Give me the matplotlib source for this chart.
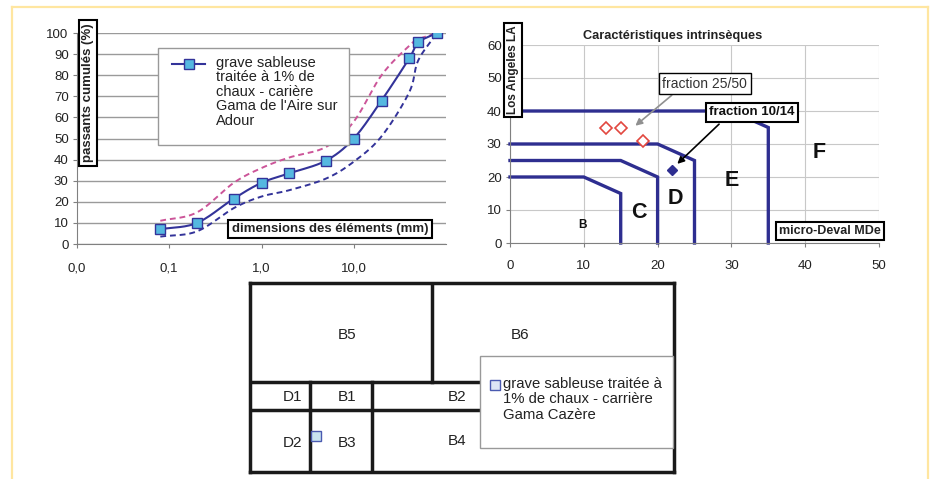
import numpy as np
import matplotlib
matplotlib.use('Agg')
import matplotlib.pyplot as plt
from matplotlib.lines import Line2D
from matplotlib.patches import Rectangle
from matplotlib.ticker import NullLocator

plt.rcParams['font.family'] = ['Liberation Sans', 'DejaVu Sans']

# ---------------- data ----------------
# grading curve (left chart)
sieve_mm = [0.08, 0.2, 0.5, 1, 2, 5, 10, 20, 40, 50, 80]
passing = [7, 10, 21.5, 29, 33.5, 39.5, 50, 68, 88, 95.5, 100]
fuseau_upper = [11, 15, 29, 36, 41, 46, 58, 80, 94, 97, 100]
fuseau_lower = [3.5, 6, 17, 22.5, 25.5, 31, 39, 51, 72, 87, 100]
grading_xticks = [0.01, 0.1, 1, 10]
grading_xticklabels = ['0,0', '0,1', '1,0', '10,0']
grading_label = "grave sableuse\ntraitée à 1% de\nchaux - carière\nGama de l'Aire sur\nAdour"

# intrinsic characteristics (right chart)
limit_B_x = [0, 10, 15, 15]
limit_B_y = [20, 20, 15, 0]
limit_C_x = [0, 15, 20, 20]
limit_C_y = [25, 25, 20, 0]
limit_D_x = [0, 20, 25, 25]
limit_D_y = [30, 30, 25, 0]
limit_E_x = [0, 30, 35, 35]
limit_E_y = [40, 40, 35, 0]
frac_2550_mde = [13, 15, 18]
frac_2550_la = [35, 35, 31]
frac_1014_mde = [22]
frac_1014_la = [22]
class_names = ['B', 'C', 'D', 'E', 'F']
class_x = [9.8, 17.4, 22.4, 30.1, 41.9]
class_y = [5.5, 9.1, 13.6, 18.8, 27.5]

# classification diagram (bottom)
zone_names = ['B5', 'B6', 'D1', 'B1', 'B2', 'D2', 'B3', 'B4']
zone_x = [0.229, 0.637, 0.101, 0.229, 0.488, 0.101, 0.229, 0.488]
zone_y = [0.725, 0.725, 0.395, 0.395, 0.395, 0.155, 0.155, 0.165]
sample_x = [0.156]
sample_y = [0.19]
sample_label = "grave sableuse traitée à\n1% de chaux - carrière\nGama Cazère"

# ---------------- figure ----------------
W, H = 933, 479
fig = plt.figure(figsize=(9.33, 4.79), dpi=100)
fig.patch.set_facecolor('white')


def fx(x):
    return x / W


def fy(y):
    return 1 - y / H


def rect(x0, y0, x1, y1):
    return [fx(x0), fy(y1), (x1 - x0) / W, (y1 - y0) / H]


def smooth(xs, ys, n=24):
    P = np.column_stack([xs, ys]).astype(float)
    P = np.vstack([2 * P[0] - P[1], P, 2 * P[-1] - P[-2]])
    out = []
    t = np.linspace(0, 1, n, endpoint=False)[:, None]
    for i in range(1, len(P) - 2):
        p0, p1, p2, p3 = P[i - 1], P[i], P[i + 1], P[i + 2]
        seg = 0.5 * ((2 * p1) + (-p0 + p2) * t
                     + (2 * p0 - 5 * p1 + 4 * p2 - p3) * t ** 2
                     + (-p0 + 3 * p1 - 3 * p2 + p3) * t ** 3)
        out.append(seg)
    out.append(P[-2][None, :])
    S = np.vstack(out)
    return S[:, 0], S[:, 1]


# yellow frame
frame_c = '#FFE6A0'
fig.add_artist(Line2D([fx(12), fx(928)], [fy(7), fy(7)], color=frame_c, lw=1.6))
fig.add_artist(Line2D([fx(12), fx(12)], [fy(7), fy(479)], color=frame_c, lw=1.6))
fig.add_artist(Line2D([fx(928), fx(928)], [fy(7), fy(479)], color=frame_c, lw=1.6))

txt_c = '#222222'
navy = '#333399'
tick_fs = 9.5

# ---------------- left chart ----------------
ax1 = fig.add_axes(rect(77, 33, 446, 244))
ax1.set_xscale('log')
ax1.set_xlim(0.01, 100)
ax1.set_ylim(0, 100)
ax1.set_yticks(range(0, 101, 10))
ax1.set_xticks(grading_xticks)
ax1.set_xticklabels(grading_xticklabels)
ax1.xaxis.set_minor_locator(NullLocator())
ax1.grid(axis='y', color='#9a9a9a', lw=1)
ax1.set_axisbelow(True)
for s in ['top', 'right']:
    ax1.spines[s].set_visible(False)
for s in ['left', 'bottom']:
    ax1.spines[s].set_color('#808080')
ax1.tick_params(axis='x', length=3, pad=10, labelsize=tick_fs, color='#808080', labelcolor=txt_c)
ax1.tick_params(axis='y', length=3, pad=3, labelsize=tick_fs, color='#808080', labelcolor=txt_c)

lx = np.log10(sieve_mm)
for vals, col, ls in [(fuseau_upper, '#CC5599', (0, (3, 2))),
                      (fuseau_lower, navy, (0, (3, 2)))]:
    sx, sy = smooth(lx, vals)
    ax1.plot(10 ** sx, sy, color=col, lw=1.4, linestyle=ls)
sx, sy = smooth(lx, passing)
ax1.plot(10 ** sx, sy, color=navy, lw=1.5)
ax1.plot(sieve_mm, passing, linestyle='none', marker='s', markersize=6.5,
         markerfacecolor='#55B8E0', markeredgecolor=navy, markeredgewidth=1)

# legend (left chart)
fig.add_artist(Rectangle((fx(158), fy(145)), (349 - 158) / W, (145 - 48) / H,
                         transform=fig.transFigure, fc='white', ec='#999999', lw=1, zorder=4))
fig.add_artist(Line2D([fx(172), fx(205)], [fy(64), fy(64)], color=navy, lw=1.5, zorder=5))
fig.add_artist(Line2D([fx(189)], [fy(64)], linestyle='none', marker='s', markersize=6.5,
                      markerfacecolor='#55B8E0', markeredgecolor=navy, zorder=6))
fig.text(fx(216), fy(56), grading_label, ha='left', va='top', fontsize=10.5,
         linespacing=1.04, color=txt_c, zorder=6)

box_bold = dict(boxstyle='square,pad=0.25', fc='white', ec='black', lw=1.5)
fig.text(fx(88), fy(93), 'passants cumulés (%)', rotation=90, ha='center', va='center',
         fontsize=9.5, fontweight='bold', color=txt_c, bbox=box_bold, zorder=6)
fig.text(fx(330), fy(229), 'dimensions des éléments (mm)', ha='center', va='center',
         fontsize=9.5, fontweight='bold', color=txt_c, bbox=box_bold, zorder=6)

# ---------------- right chart ----------------
ax2 = fig.add_axes(rect(510, 45, 879, 243))
ax2.set_xlim(0, 50)
ax2.set_ylim(0, 60)
ax2.set_xticks(range(0, 51, 10))
ax2.set_yticks(range(0, 61, 10))
ax2.grid(True, color='#c8c8c8', lw=0.8)
ax2.set_axisbelow(True)
for s in ['top', 'right']:
    ax2.spines[s].set_visible(False)
for s in ['left', 'bottom']:
    ax2.spines[s].set_color('#808080')
ax2.tick_params(axis='x', length=3, pad=9, labelsize=tick_fs, color='#808080', labelcolor=txt_c)
ax2.tick_params(axis='y', length=3, pad=3, labelsize=tick_fs, color='#808080', labelcolor=txt_c)
ax2.set_title('Caractéristiques intrinsèques', fontsize=9.2, fontweight='bold',
              color=txt_c, pad=4, x=0.44)

for xs, ys in [(limit_B_x, limit_B_y), (limit_C_x, limit_C_y),
               (limit_D_x, limit_D_y), (limit_E_x, limit_E_y)]:
    ax2.plot(xs, ys, color='#2E2E90', lw=2.4, solid_joinstyle='miter', clip_on=False)

ax2.plot(frac_2550_mde, frac_2550_la, linestyle='none', marker='D', markersize=6.5,
         markerfacecolor='white', markeredgecolor='#E2473F', markeredgewidth=1.2)
ax2.plot(frac_1014_mde, frac_1014_la, linestyle='none', marker='D', markersize=5,
         markerfacecolor='#2E2E90', markeredgecolor='#2E2E90')

for name, x, y in zip(class_names, class_x, class_y):
    ax2.text(x, y, name, ha='center', va='center', fontweight='bold', color='#111111',
             fontsize=8.5 if name == 'B' else 15.5)

ax2.annotate('', xy=(16.7, 35.0), xytext=(22.2, 45.3),
             arrowprops=dict(arrowstyle='-|>', color='#909090', lw=1.2, mutation_scale=10))
ax2.annotate('', xy=(22.4, 23.4), xytext=(28.6, 36.6),
             arrowprops=dict(arrowstyle='-|>', color='black', lw=1.2, mutation_scale=10))
ax2.text(26.4, 48.2, 'fraction 25/50', ha='center', va='center', fontsize=10,
         color='#333333', bbox=dict(boxstyle='square,pad=0.25', fc='white', ec='black', lw=1))
ax2.text(32.8, 39.6, 'fraction 10/14', ha='center', va='center', fontsize=9.5,
         fontweight='bold', color='#111111',
         bbox=dict(boxstyle='square,pad=0.25', fc='white', ec='black', lw=1.5))

fig.text(fx(513), fy(70), 'Los Angeles LA', rotation=90, ha='center', va='center',
         fontsize=8.5, fontweight='bold', color=txt_c, bbox=box_bold, zorder=6)
fig.text(fx(830), fy(231), 'micro-Deval MDe', ha='center', va='center',
         fontsize=9, fontweight='bold', color=txt_c, bbox=box_bold, zorder=6)

# ---------------- bottom diagram ----------------
ax3 = fig.add_axes(rect(250, 283, 674, 472))
ax3.set_xlim(0, 1)
ax3.set_ylim(0, 1)
ax3.set_xticks([])
ax3.set_yticks([])
for s in ax3.spines.values():
    s.set_linewidth(2.5)
    s.set_color('#1a1a1a')
lk = dict(color='#1a1a1a', lw=2.5)
ax3.plot([0.429, 0.429], [0.476, 1], **lk)
ax3.plot([0, 1], [0.476, 0.476], **lk)
ax3.plot([0, 1], [0.328, 0.328], **lk)
ax3.plot([0.1415, 0.1415], [0, 0.476], **lk)
ax3.plot([0.288, 0.288], [0, 0.476], **lk)
for name, x, y in zip(zone_names, zone_x, zone_y):
    ax3.text(x, y, name, ha='center', va='center', fontsize=11, color=txt_c)
ax3.plot(sample_x, sample_y, linestyle='none', marker='s', markersize=7,
         markerfacecolor='#C8E4F0', markeredgecolor='#4A5AB0', markeredgewidth=1)

ax3.add_patch(Rectangle((0.542, 0.127), 0.456, 0.487, transform=ax3.transAxes,
                        fc='white', ec='#999999', lw=1, zorder=5, clip_on=False))
ax3.plot([0.579], [0.46], linestyle='none', marker='s', markersize=6.5,
         markerfacecolor='#DDE6F5', markeredgecolor='#4A5AB0', markeredgewidth=1,
         zorder=6, clip_on=False)
ax3.text(0.596, 0.505, sample_label, ha='left', va='top', fontsize=10.7,
         linespacing=1.15, color=txt_c, zorder=6)

fig.savefig('out.png', dpi=100, facecolor='white')
